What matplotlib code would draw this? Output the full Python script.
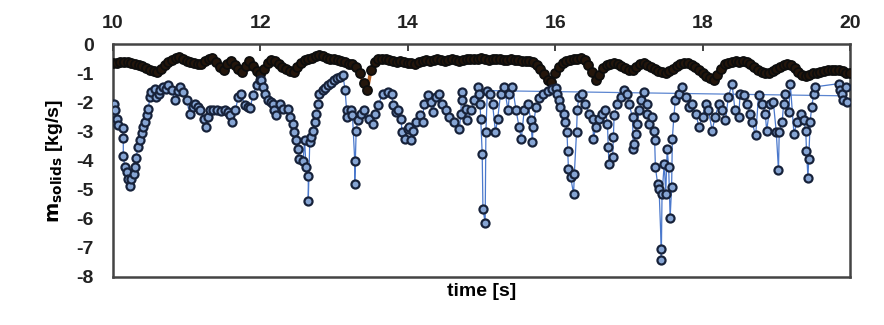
import numpy as np
import matplotlib
matplotlib.use("Agg")
import matplotlib.pyplot as plt

plt.rcParams['font.family'] = ['Liberation Sans', 'DejaVu Sans']

# ---- black/orange series (upper band) ----
black_t = np.linspace(10, 20, 201)
black_y = [
    -0.66, -0.64, -0.62, -0.61, -0.62, -0.65, -0.68, -0.72, -0.76, -0.82,
    -0.88, -0.93, -0.96, -0.86, -0.72, -0.63, -0.55, -0.48, -0.45, -0.50,
    -0.58, -0.62, -0.66, -0.70, -0.68, -0.60, -0.53, -0.49, -0.62, -0.80,
    -0.90, -0.70, -0.60, -0.72, -0.85, -0.95, -0.75, -0.60, -0.75, -0.92,
    -1.02, -0.85, -0.65, -0.55, -0.60, -0.68, -0.78, -0.85, -0.92, -0.95,
    -0.80, -0.66, -0.56, -0.52, -0.47, -0.41, -0.38, -0.42, -0.47, -0.50,
    -0.53, -0.55, -0.58, -0.62, -0.67, -0.70, -0.78, -1.00, -1.35, -1.58,
    -0.90, -0.62, -0.52, -0.50, -0.52, -0.56, -0.60, -0.62, -0.58, -0.62,
    -0.66, -0.64, -0.67, -0.62, -0.58, -0.56, -0.58, -0.55, -0.52, -0.55,
    -0.57, -0.55, -0.53, -0.55, -0.58, -0.56, -0.52, -0.50, -0.52, -0.50,
    -0.49, -0.52, -0.55, -0.53, -0.51, -0.53, -0.56, -0.55, -0.53, -0.55,
    -0.55, -0.57, -0.58, -0.59, -0.62, -0.72, -0.86, -1.02, -1.22, -1.32,
    -0.98, -0.78, -0.66, -0.60, -0.56, -0.52, -0.50, -0.49, -0.55, -0.72,
    -0.95, -1.22, -1.05, -0.82, -0.72, -0.68, -0.66, -0.70, -0.76, -0.82,
    -0.88, -0.90, -0.80, -0.70, -0.66, -0.72, -0.80, -0.86, -0.92, -0.97,
    -1.00, -0.92, -0.85, -0.76, -0.70, -0.66, -0.66, -0.72, -0.80, -0.90,
    -1.00, -1.10, -1.18, -1.24, -1.05, -0.85, -0.70, -0.64, -0.62, -0.60,
    -0.62, -0.60, -0.62, -0.68, -0.78, -0.88, -0.95, -1.00, -1.00, -0.92,
    -0.85, -0.78, -0.72, -0.70, -0.72, -0.82, -0.95, -1.05, -1.10, -1.05,
    -1.00, -0.98, -0.95, -0.92, -0.90, -0.88, -0.90, -0.88, -0.92, -0.98,
    -1.00,
]

# ---- blue series ----
blue_t = [
    10.01, 10.03, 10.05, 10.07, 10.13, 10.14, 10.14, 10.16, 10.19, 10.21,
    10.23, 10.25, 10.28, 10.30, 10.31, 10.34, 10.37, 10.39, 10.41, 10.44,
    10.46, 10.48, 10.50, 10.52, 10.57, 10.59, 10.62, 10.64, 10.68, 10.72,
    10.75, 10.80, 10.84, 10.88, 10.91, 10.95, 11.00, 11.04, 11.08, 11.11,
    11.15, 11.18, 11.23, 11.26, 11.29, 11.32, 11.36, 11.41, 11.46, 11.52,
    11.56, 11.59, 11.62, 11.66, 11.70, 11.74, 11.79, 11.83, 11.86, 11.90,
    11.95, 11.99, 12.01, 12.03, 12.06, 12.10, 12.14, 12.17, 12.19, 12.21,
    12.26, 12.31, 12.37, 12.40, 12.44, 12.46, 12.49, 12.51, 12.53, 12.58,
    12.60, 12.62, 12.65, 12.65, 12.67, 12.69, 12.71, 12.74, 12.76, 12.78,
    12.80, 12.85, 12.88, 12.92, 12.96, 13.00, 13.04, 13.08, 13.12, 13.15,
    13.17, 13.18, 13.23, 13.25, 13.28, 13.28, 13.30, 13.32, 13.37, 13.41,
    13.48, 13.53, 13.55, 13.60, 13.66, 13.73, 13.78, 13.80, 13.84, 13.87,
    13.91, 13.92, 13.96, 14.00, 14.02, 14.04, 14.07, 14.11, 14.16, 14.20,
    14.22, 14.27, 14.31, 14.34, 14.38, 14.43, 14.47, 14.52, 14.56, 14.63,
    14.70, 14.72, 14.73, 14.74, 14.79, 14.81, 14.86, 14.90, 14.95, 14.97,
    14.98, 14.99, 15.01, 15.02, 15.05, 15.06, 15.08, 15.11, 15.15, 15.19,
    15.22, 15.26, 15.31, 15.36, 15.38, 15.42, 15.47, 15.51, 15.54, 15.58,
    15.63, 15.67, 15.69, 15.70, 15.74, 15.78, 15.83, 15.90, 15.96, 16.01,
    16.03, 16.05, 16.07, 16.12, 16.14, 16.16, 16.17, 16.18, 16.21, 16.25,
    16.26, 16.29, 16.30, 16.32, 16.37, 16.41, 16.46, 16.51, 16.52, 16.55,
    16.59, 16.64, 16.68, 16.71, 16.72, 16.73, 16.78, 16.79, 16.80, 16.84,
    16.89, 16.93, 16.98, 17.00, 17.05, 17.06, 17.07, 17.09, 17.11, 17.14,
    17.17, 17.20, 17.24, 17.25, 17.27, 17.32, 17.34, 17.35, 17.36, 17.39,
    17.41, 17.44, 17.44, 17.45, 17.48, 17.50, 17.52, 17.54, 17.56, 17.58,
    17.59, 17.61, 17.63, 17.68, 17.72, 17.77, 17.82, 17.86, 17.91, 17.95,
    18.00, 18.04, 18.08, 18.13, 18.17, 18.22, 18.26, 18.31, 18.35, 18.40,
    18.44, 18.49, 18.51, 18.56, 18.60, 18.65, 18.67, 18.72, 18.76, 18.81,
    18.85, 18.87, 18.92, 18.96, 19.00, 19.03, 19.04, 19.08, 19.10, 19.12,
    19.17, 19.19, 19.24, 19.28, 19.33, 19.37, 19.40, 19.41, 19.43, 19.44,
    19.46, 19.48, 19.51, 19.53, 19.85, 19.87, 19.89, 19.91, 19.94, 19.96,
]
blue_y = [
    -2.05, -2.28, -2.56, -2.79, -2.90, -3.24, -3.83, -4.23, -4.40, -4.62,
    -4.86, -4.62, -4.45, -4.23, -3.93, -3.54, -3.31, -3.07, -2.85, -2.68,
    -2.45, -2.22, -1.82, -1.64, -1.53, -1.82, -1.70, -1.59, -1.47, -1.53,
    -1.41, -1.59, -1.93, -1.60, -1.47, -1.64, -1.93, -2.39, -2.15, -2.05,
    -2.15, -2.28, -2.56, -2.85, -2.50, -2.28, -2.25, -2.28, -2.30, -2.28,
    -2.35, -2.45, -2.68, -2.28, -1.82, -1.70, -2.10, -2.18, -2.20, -1.76,
    -1.41, -1.24, -1.24, -1.47, -1.70, -1.93, -2.00, -2.05, -2.28, -2.45,
    -2.05, -2.22, -2.22, -2.51, -2.74, -3.02, -3.31, -3.60, -3.94, -4.00,
    -3.31, -4.23, -4.52, -5.38, -3.37, -3.20, -2.97, -2.68, -2.39, -2.05,
    -1.70, -1.59, -1.52, -1.42, -1.33, -1.25, -1.18, -1.12, -1.07, -1.59,
    -2.28, -2.51, -2.28, -2.45, -4.00, -4.80, -2.97, -2.62, -2.39, -2.28,
    -2.56, -2.74, -2.39, -2.10, -1.70, -1.64, -1.70, -2.10, -2.33, -2.25,
    -2.56, -3.02, -3.25, -2.91, -2.85, -3.31, -2.97, -2.68, -2.45, -2.68,
    -2.05, -1.76, -1.99, -2.33, -1.82, -1.70, -2.05, -2.28, -2.51, -2.68,
    -2.91, -2.39, -1.64, -1.93, -2.22, -2.62, -2.28, -1.93, -1.47, -1.70,
    -2.05, -2.56, -3.77, -5.67, -6.13, -3.02, -1.60, -1.70, -2.05, -3.02,
    -2.56, -1.70, -1.47, -2.28, -1.70, -1.47, -2.28, -2.85, -3.25, -2.28,
    -2.05, -2.62, -3.37, -2.85, -2.16, -1.87, -1.70, -1.60, -1.55, -1.50,
    -1.70, -1.93, -2.16, -2.39, -2.68, -3.02, -3.66, -4.29, -4.57, -5.15,
    -4.46, -3.02, -2.28, -1.82, -1.70, -2.05, -2.39, -2.56, -3.25, -2.85,
    -2.56, -2.39, -2.28, -2.74, -3.54, -4.11, -3.89, -3.20, -2.45, -2.05,
    -1.82, -1.59, -1.70, -2.05, -2.51, -3.60, -3.42, -3.08, -2.74, -2.28,
    -1.93, -1.64, -2.05, -2.39, -2.74, -2.51, -2.97, -3.31, -4.23, -4.80,
    -4.98, -7.05, -7.41, -5.15, -4.11, -5.15, -3.60, -4.23, -5.96, -4.92,
    -3.25, -2.51, -1.93, -1.70, -1.47, -1.82, -2.16, -2.05, -2.39, -2.85,
    -2.51, -2.05, -2.28, -2.97, -2.51, -2.05, -2.28, -2.62, -1.82, -1.36,
    -2.28, -2.51, -1.70, -1.76, -2.05, -2.39, -2.68, -3.14, -1.76, -2.05,
    -2.39, -2.97, -2.05, -1.99, -3.02, -4.34, -3.02, -2.68, -2.05, -1.70,
    -2.33, -1.36, -3.08, -2.68, -2.39, -2.62, -2.97, -3.66, -4.60, -3.94,
    -2.68, -2.16, -1.70, -1.47, -1.36, -1.59, -1.70, -1.93, -1.47, -2.00,
]

# thin connecting segment of the blue series
bridge_t = [15.08, 19.92]
bridge_y = [-1.60, -1.78]

x_ticks = [10, 12, 14, 16, 18, 20]
y_ticks = [0, -1, -2, -3, -4, -5, -6, -7, -8]

fig = plt.figure(figsize=(8.84, 3.25), dpi=100)
ax = fig.add_axes([0.1278, 0.1477, 0.8337, 0.7169])

ax.plot(bridge_t, bridge_y, color='#5b85d0', lw=0.9, zorder=2)
ax.plot(black_t, black_y, color='#b8642a', lw=2.5, zorder=3)
ax.plot(black_t, black_y, ls='none', marker='o', ms=6.5,
        mfc='#24160c', mec='#0d0d0d', mew=1.3, zorder=3)
ax.plot(blue_t, blue_y, color='#4a78cc', lw=0.9, marker='o', ms=5.8,
        mfc='#86a5d4', mec='#17223a', mew=1.6, zorder=4)

ax.set_xlim(10, 20)
ax.set_ylim(-8, 0)
ax.xaxis.tick_top()
ax.set_xticks(x_ticks)
ax.set_xticklabels([str(v) for v in x_ticks], fontsize=14, fontweight='bold')
ax.set_yticks(y_ticks)
ax.set_yticklabels([str(v) for v in y_ticks], fontsize=14, fontweight='bold')
ax.tick_params(axis='x', direction='in', length=5, width=1.2, pad=9, top=True, bottom=False, colors='#222222')
ax.tick_params(axis='y', direction='in', length=0, pad=14, colors='#222222')
for sp in ax.spines.values():
    sp.set_linewidth(1.8)
    sp.set_color('#444444')

ax.set_xlabel('time [s]', fontsize=14, fontweight='bold', labelpad=4)
ax.xaxis.set_label_position('bottom')
ax.set_ylabel(r'$\mathbf{m}_{\mathbf{solids}}$ [kg/s]', fontsize=14, fontweight='bold', labelpad=8)

fig.savefig('out.png', dpi=100)
